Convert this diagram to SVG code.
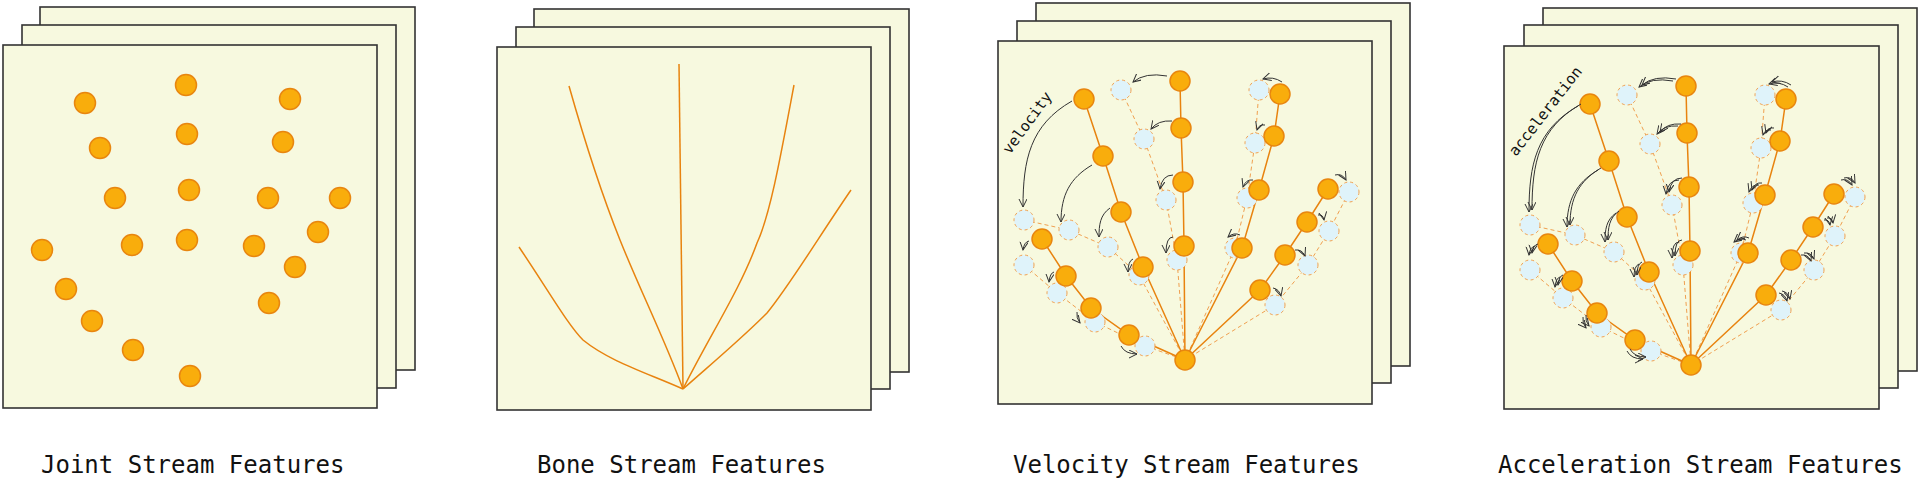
<svg xmlns="http://www.w3.org/2000/svg" width="1920" height="486" viewBox="0 0 1920 486">
<style>
.pg{fill:#f7f9df;stroke:#333;stroke-width:1.6}
.j{fill:#f9ad0c;stroke:#e8860f;stroke-width:1.5}
.g{fill:#dff3fa;stroke:#f0a050;stroke-width:1;stroke-dasharray:3 3}
.b{fill:none;stroke:#e8830f;stroke-width:1.5}
.bd{fill:none;stroke:#f0a050;stroke-width:1;stroke-dasharray:4 3}
.a{fill:none;stroke:#333;stroke-width:1;marker-end:url(#ah)}
.t{font-family:"DejaVu Sans Mono",monospace;font-size:24px;fill:#111}
.l{font-family:"DejaVu Sans Mono",monospace;font-size:15px;fill:#111}
</style>
<defs>
<marker id="ah" markerUnits="userSpaceOnUse" markerWidth="10" markerHeight="10" refX="8" refY="4" orient="auto"><path d="M0,0 L8,4 L0,8" fill="none" stroke="#333" stroke-width="1"/></marker>
<g id="sk">
<g id="bones">
<path class="bd" d="M1024,220 L1069,230 L1108,247 L1139,275 L1185,360"/>
<path class="bd" d="M1121,90 L1144,139 L1166,200 L1177,260 L1185,360"/>
<path class="bd" d="M1259,90 L1255,143 L1247,198 L1235,248 L1185,360"/>
<path class="bd" d="M1349,192 L1329,231 L1308,265 L1275,305 L1185,360"/>
<path class="bd" d="M1024,265 L1057,293 L1095,322 L1145,346 L1185,360"/>
<path class="b" d="M1084,99 L1103,156 L1121,212 L1143,267 L1185,360"/>
<path class="b" d="M1180,81 L1181,128 L1183,182 L1184,246 L1185,360"/>
<path class="b" d="M1280,94 L1274,136 L1259,190 L1242,248 L1185,360"/>
<path class="b" d="M1328,189 L1307,222 L1285,255 L1260,290 L1185,360"/>
<path class="b" d="M1042,239 L1066,276 L1091,308 L1129,335 L1185,360"/>
</g>
<g id="ghosts">
<circle class="g" cx="1024" cy="220" r="10"/><circle class="g" cx="1069" cy="230" r="10"/><circle class="g" cx="1108" cy="247" r="10"/><circle class="g" cx="1139" cy="275" r="10"/>
<circle class="g" cx="1121" cy="90" r="10"/><circle class="g" cx="1144" cy="139" r="10"/><circle class="g" cx="1166" cy="200" r="10"/><circle class="g" cx="1177" cy="260" r="10"/>
<circle class="g" cx="1259" cy="90" r="10"/><circle class="g" cx="1255" cy="143" r="10"/><circle class="g" cx="1247" cy="198" r="10"/><circle class="g" cx="1235" cy="248" r="10"/>
<circle class="g" cx="1349" cy="192" r="10"/><circle class="g" cx="1329" cy="231" r="10"/><circle class="g" cx="1308" cy="265" r="10"/><circle class="g" cx="1275" cy="305" r="10"/>
<circle class="g" cx="1024" cy="265" r="10"/><circle class="g" cx="1057" cy="293" r="10"/><circle class="g" cx="1095" cy="322" r="10"/><circle class="g" cx="1145" cy="346" r="10"/>
</g>
<g id="joints">
<circle class="j" cx="1185" cy="360" r="10"/>
<circle class="j" cx="1084" cy="99" r="10"/><circle class="j" cx="1103" cy="156" r="10"/><circle class="j" cx="1121" cy="212" r="10"/><circle class="j" cx="1143" cy="267" r="10"/>
<circle class="j" cx="1180" cy="81" r="10"/><circle class="j" cx="1181" cy="128" r="10"/><circle class="j" cx="1183" cy="182" r="10"/><circle class="j" cx="1184" cy="246" r="10"/>
<circle class="j" cx="1280" cy="94" r="10"/><circle class="j" cx="1274" cy="136" r="10"/><circle class="j" cx="1259" cy="190" r="10"/><circle class="j" cx="1242" cy="248" r="10"/>
<circle class="j" cx="1328" cy="189" r="10"/><circle class="j" cx="1307" cy="222" r="10"/><circle class="j" cx="1285" cy="255" r="10"/><circle class="j" cx="1260" cy="290" r="10"/>
<circle class="j" cx="1042" cy="239" r="10"/><circle class="j" cx="1066" cy="276" r="10"/><circle class="j" cx="1091" cy="308" r="10"/><circle class="j" cx="1129" cy="335" r="10"/>
</g>
</g>
<g id="arr">
<path d="M1072,101 C1030,125 1023,160 1023,207"/>
<path d="M1092,165 C1070,178 1061,195 1061,222"/>
<path d="M1110,208 C1100,215 1099,225 1099,237"/>
<path d="M1133,259 Q1128,261 1128,272"/>
<path d="M1167,76 Q1145,72 1133,82"/>
<path d="M1172,121 Q1158,120 1151,129"/>
<path d="M1173,175 Q1162,175 1160,189"/>
<path d="M1173,237 Q1166,237 1166,253"/>
<path d="M1282,82 Q1273,76 1263,79"/>
<path d="M1265,125 Q1259,124 1257,130"/>
<path d="M1253,180 Q1246,179 1243,187"/>
<path d="M1240,235 Q1234,232 1228,237"/>
<path d="M1335,175 Q1342,173 1346,180"/>
<path d="M1318,215 Q1323,214 1324,220"/>
<path d="M1295,250 Q1302,249 1305,256"/>
<path d="M1273,288 Q1279,289 1281,296"/>
<path d="M1029,241 Q1024,242 1023,250"/>
<path d="M1054,272 Q1050,273 1049,282"/>
<path d="M1077,312 Q1076,318 1080,323"/>
<path d="M1121,346 Q1125,354 1137,354"/>
</g>
</defs>

<g id="joint-panel">
<rect class="pg" x="40" y="7" width="375" height="363"/>
<rect class="pg" x="22" y="25" width="374" height="363"/>
<rect class="pg" x="3" y="45" width="374" height="363"/>
<g class="j">
<circle cx="85" cy="103" r="10.5"/><circle cx="100" cy="148" r="10.5"/><circle cx="115" cy="198" r="10.5"/><circle cx="132" cy="245" r="10.5"/>
<circle cx="42" cy="250" r="10.5"/><circle cx="66" cy="289" r="10.5"/><circle cx="92" cy="321" r="10.5"/><circle cx="133" cy="350" r="10.5"/><circle cx="190" cy="376" r="10.5"/>
<circle cx="186" cy="85" r="10.5"/><circle cx="187" cy="134" r="10.5"/><circle cx="189" cy="190" r="10.5"/><circle cx="187" cy="240" r="10.5"/>
<circle cx="290" cy="99" r="10.5"/><circle cx="283" cy="142" r="10.5"/><circle cx="268" cy="198" r="10.5"/><circle cx="340" cy="198" r="10.5"/>
<circle cx="318" cy="232" r="10.5"/><circle cx="254" cy="246" r="10.5"/><circle cx="295" cy="267" r="10.5"/><circle cx="269" cy="303" r="10.5"/>
</g>
<text class="t" x="41" y="473">Joint Stream Features</text>
</g>

<g id="bone-panel">
<rect class="pg" x="534" y="9" width="375" height="363"/>
<rect class="pg" x="516" y="27" width="374" height="362"/>
<rect class="pg" x="497" y="47" width="374" height="363"/>
<path class="b" d="M519,247 C550,293 568,325 583,340 C610,362 650,374 683,389"/>
<path class="b" d="M569,86 C590,160 610,215 620,240 C640,290 665,340 683,389"/>
<path class="b" d="M679,64 L683,389"/>
<path class="b" d="M794,85 C780,160 770,215 757,243 C740,290 710,335 683,389"/>
<path class="b" d="M851,190 C820,235 790,285 767,313 C740,340 710,365 683,389"/>
<text class="t" x="537" y="473">Bone Stream Features</text>
</g>

<g id="velocity-panel">
<rect class="pg" x="1036" y="3" width="374" height="363"/>
<rect class="pg" x="1017" y="21" width="374" height="362"/>
<rect class="pg" x="998" y="41" width="374" height="363"/>
<use href="#sk"/>
<g class="a"><use href="#arr"/></g>
<text class="l" transform="translate(1010,155) rotate(-54)">velocity</text>
<text class="t" x="1013" y="473">Velocity Stream Features</text>
</g>

<g id="acceleration-panel">
<rect class="pg" x="1543" y="8" width="374" height="363"/>
<rect class="pg" x="1524" y="25" width="374" height="363"/>
<rect class="pg" x="1504" y="46" width="375" height="363"/>
<g transform="translate(506,5)">
<use href="#sk"/>
<g class="a"><use href="#arr"/><use href="#arr" transform="translate(3,-2)"/></g>
</g>
<text class="l" transform="translate(1516,157) rotate(-52)">acceleration</text>
<text class="t" x="1498" y="473">Acceleration Stream Features</text>
</g>
</svg>
